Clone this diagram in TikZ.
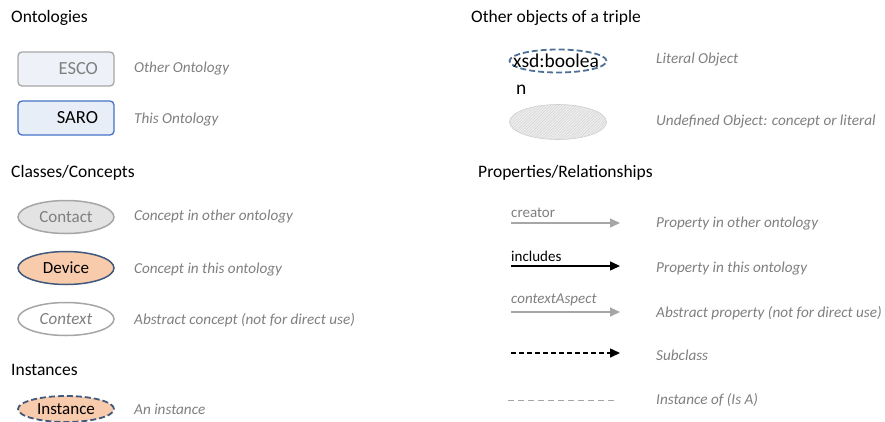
\documentclass[tikz,border=0pt]{standalone}
\usepackage{fontspec}
\setmainfont{Carlito}
\usetikzlibrary{shapes.geometric,arrows.meta,patterns.meta}

\definecolor{desc}{HTML}{7F7F7F}
\definecolor{lightline}{HTML}{A6A6A6}
\definecolor{escofill}{HTML}{EEF2F8}
\definecolor{sarofill}{HTML}{E8EEF8}
\definecolor{saroline}{HTML}{4472C4}
\definecolor{peach}{HTML}{F8CBAD}
\definecolor{navyline}{HTML}{41597C}
\definecolor{steel}{HTML}{4F7096}
\definecolor{greyfill}{HTML}{E3E3E3}
\definecolor{hatchfill}{HTML}{EEEEEE}
\definecolor{hatchline}{HTML}{CFCFCF}

\tikzset{
  heading/.style={anchor=west, inner sep=0pt, font=\fontsize{17.5}{20}\selectfont},
  desctext/.style={anchor=west, inner sep=0pt, text=desc, font=\fontsize{15.2}{17}\selectfont\itshape},
  ontobox/.style={rectangle, rounded corners=4pt, minimum height=34pt, text width=64pt,
    inner xsep=16pt, align=right, line width=1.3pt, font=\fontsize{18.5}{20}\selectfont},
  concept/.style={ellipse, minimum width=96pt, minimum height=33pt, inner sep=0pt,
    line width=1.5pt, font=\fontsize{17}{19}\selectfont},
  longdash/.style={dash pattern=on 6pt off 3pt},
  proplabel/.style={anchor=south west, inner sep=0pt, font=\fontsize{15}{17}\selectfont},
  proparrow/.style={line width=1.3pt, -{Triangle[length=10pt,width=9pt]}},
}

\begin{document}
\begin{tikzpicture}[x=1pt, y=-1pt]
\useasboundingbox (0,0) rectangle (885,421);

% ---------- Ontologies ----------
\node[heading] (hOnt) at (11,18) {Ontologies};
\node[ontobox, draw=lightline, fill=escofill, text=desc] (esco) at (66,69) {ESCO};
\node[desctext] (escoD) at (134,69) {Other Ontology};
\node[ontobox, draw=saroline, fill=sarofill] (saro) at (66,118) {SARO};
\node[desctext] (saroD) at (134,120) {This Ontology};

% ---------- Classes / Concepts ----------
\node[heading] (hCls) at (11,173) {Classes/Concepts};
\node[concept, draw=lightline, fill=greyfill, text=desc] (contact) at (66,217) {Contact};
\node[desctext] (contactD) at (134,217) {Concept in other ontology};
\node[concept, draw=navyline, fill=peach] (device) at (66,268) {Device};
\node[desctext] (deviceD) at (134,270) {Concept in this ontology};
\node[concept, draw=lightline, fill=white, text=desc, font=\fontsize{17}{19}\selectfont\itshape] (context) at (66,319) {Context};
\node[desctext] (contextD) at (134,320) {Abstract concept (not for direct use)};

% ---------- Instances ----------
\node[heading] (hInst) at (11,370) {Instances};
\node[concept, draw=navyline, fill=peach, longdash, line width=1.8pt, minimum height=26pt] (inst) at (66,409) {Instance};
\node[desctext] (instD) at (134,409) {An instance};

% ---------- Other objects of a triple ----------
\node[heading] (hObj) at (471,18) {Other objects of a triple};
\node[ellipse, draw=steel, longdash, line width=1.8pt, minimum width=97pt, minimum height=23pt,
      inner sep=0pt] (literal) at (558,61) {};
\node[anchor=west, inner sep=0pt, font=\fontsize{19.5}{21}\selectfont]
      (literalT) at (513,61) {xsd:boolea};
\node[anchor=west, inner sep=0pt, font=\fontsize{19.5}{21}\selectfont] (literalN) at (516,90) {n};
\node[desctext] (literalD) at (656,60) {Literal Object};
\node[ellipse, draw=hatchline, line width=0.6pt, minimum width=97pt, minimum height=35pt,
      preaction={fill=hatchfill},
      pattern={Lines[angle=45,distance=2pt,line width=0.4pt]}, pattern color=hatchline,
      inner sep=0pt] (undef) at (558,122) {};
\node[desctext] (undefD) at (656,122) {Undefined Object: concept or literal};

% ---------- Properties / Relationships ----------
\node[heading] (hProp) at (478,173) {Properties/Relationships};

\coordinate (c1a) at (511,223); \coordinate (c1b) at (620,223);
\draw[proparrow, lightline] (c1a) -- (c1b);
\node[proplabel, text=desc] (creator) at (511,218) {creator};
\node[desctext] (creatorD) at (656,224) {Property in other ontology};

\coordinate (c2a) at (511,266); \coordinate (c2b) at (620,266);
\draw[proparrow, black] (c2a) -- (c2b);
\node[proplabel] (includes) at (511,262) {includes};
\node[desctext] (includesD) at (656,269) {Property in this ontology};

\coordinate (c3a) at (511,312); \coordinate (c3b) at (620,312);
\draw[proparrow, lightline] (c3a) -- (c3b);
\node[proplabel, text=desc, font=\fontsize{15}{17}\selectfont\itshape] (ctxAsp) at (511,306) {contextAspect};
\node[desctext] (ctxAspD) at (656,313) {Abstract property (not for direct use)};

\coordinate (c4a) at (511,353); \coordinate (c4b) at (620,353);
\draw[proparrow, black, line width=1.5pt, dash pattern=on 5pt off 3pt] (c4a) -- (c4b);
\node[desctext] (subD) at (656,355) {Subclass};

\coordinate (c5a) at (508,400); \coordinate (c5b) at (617,400);
\draw[lightline, line width=0.9pt, dash pattern=on 6pt off 4pt] (c5a) -- (c5b);
\node[desctext] (isaD) at (656,400) {Instance of (Is A)};
\end{tikzpicture}
\end{document}
